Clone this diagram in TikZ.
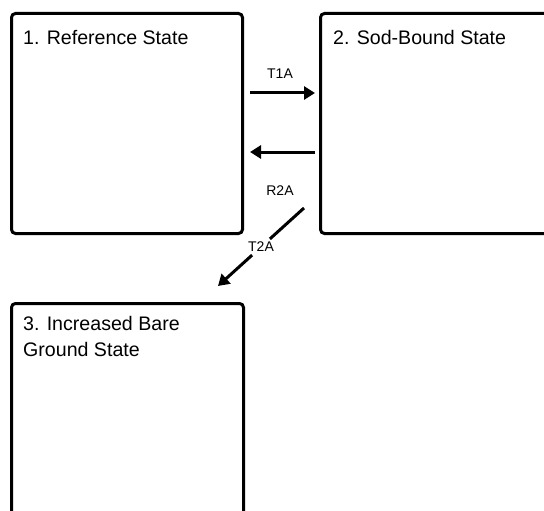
\documentclass[tikz,border=0pt]{standalone}
\usepackage{fontspec}
\setmainfont{Liberation Sans}
\usetikzlibrary{arrows.meta}
\begin{document}
\begin{tikzpicture}[x=1pt,y=-1pt,
  statebox/.style={draw=black, line width=3pt, rounded corners=4pt, fill=white, anchor=north west, inner sep=0pt},
  statetext/.style={anchor=base west, inner sep=0pt, font=\fontsize{19.6}{26}\selectfont, align=left},
  arr/.style={line width=3pt, -{Triangle[length=11pt,width=13pt]}},
  plain/.style={line width=3pt},
  lbl/.style={font=\fontsize{14}{16}\selectfont, inner sep=1pt}]
\useasboundingbox (0,0) rectangle (544,511);
\clip (0,0) rectangle (544,511);
\node[statebox, minimum width=231pt, minimum height=220pt] (b1) at (10,12) {};
\node[statebox, minimum width=260pt, minimum height=220pt] (b2) at (319,12) {};
\node[statebox, minimum width=232pt, minimum height=240pt] (b3) at (10,302) {};
\node[statetext] (t1) at (23,45) {1. Reference State};
\node[statetext] (t2) at (333,45) {2. Sod-Bound State};
\node[statetext, anchor=north west] (t3) at (23,316) {3. Increased Bare\\Ground State};
\coordinate (y1) at (0,93);
\coordinate (y2) at (0,152);
\draw[arr, shorten <=6pt, shorten >=4pt] (b1.east |- y1) -- (b2.west |- y1);
\draw[arr, shorten <=4pt, shorten >=6pt] (b2.west |- y2) -- (b1.east |- y2);
\node[lbl, anchor=base] (l1) at (280,78) {T1A};
\node[lbl, anchor=base] (l2) at (280,195) {R2A};
\coordinate (d1) at (304,208);
\coordinate (d2) at (218,286);
\node[lbl, inner sep=3pt] (l3) at (261,247) {T2A};
\draw[plain] (d1) -- (l3);
\draw[arr] (l3) -- (d2);
\end{tikzpicture}
\end{document}
